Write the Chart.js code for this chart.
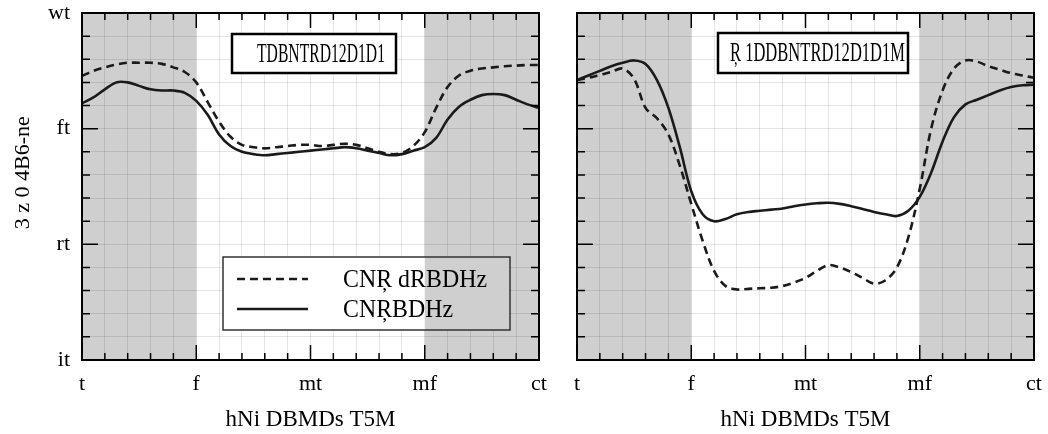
<!DOCTYPE html>
<html>
<head>
<meta charset="utf-8">
<script src="https://cdn.jsdelivr.net/npm/chart.js@4.4.1/dist/chart.umd.min.js"></script>
<style>
  html, body { margin: 0; padding: 0; background: #fff; }
  #wrap { position: relative; width: 1048px; height: 434px; overflow: hidden; }
  #c1 { position: absolute; left: 0; top: 0; }
  #c2 { position: absolute; left: 545px; top: 0; }
</style>
</head>
<body>
<div id="wrap">
  <canvas id="c1" width="560" height="434" style="width:560px;height:434px"></canvas>
  <canvas id="c2" width="503" height="434" style="width:503px;height:434px"></canvas>
</div>
<script>
// ---- data ----
const xValues = [0, 0.5, 1, 1.5, 2, 2.5, 3, 3.5, 4, 4.5, 5, 5.5, 6, 6.5, 7, 7.5, 8, 8.5, 9, 9.5, 10,
                 10.5, 11, 11.5, 12, 12.5, 13, 13.5, 14, 14.5, 15, 15.5, 16, 16.5, 17, 17.5, 18, 18.5, 19, 19.5, 20];

const leftDashed = [54.55, 55.0, 55.3, 55.55, 55.7, 55.7, 55.7, 55.6, 55.3, 54.9, 54.0, 52.3, 50.6, 49.3, 48.6, 48.4, 48.3, 48.4, 48.5, 48.6, 48.6,
                    48.5, 48.6, 48.7, 48.6, 48.3, 48.0, 47.8, 47.9, 48.5, 49.7, 51.8, 53.6, 54.6, 55.0, 55.2, 55.3, 55.4, 55.45, 55.5, 55.5];
const leftSolid  = [52.2, 52.7, 53.4, 54.0, 54.0, 53.7, 53.4, 53.3, 53.3, 53.1, 52.4, 51.2, 49.5, 48.5, 48.0, 47.8, 47.7, 47.8, 47.9, 48.0, 48.1,
                    48.2, 48.3, 48.4, 48.3, 48.1, 47.9, 47.7, 47.8, 48.1, 48.4, 49.2, 50.8, 51.9, 52.5, 52.9, 53.0, 52.9, 52.5, 52.1, 51.8];

const rightDashed = [54.2, 54.4, 54.65, 54.9, 55.2, 54.3, 51.8, 50.9, 49.5, 46.8, 43.5, 40.3, 37.7, 36.4, 36.1, 36.15, 36.2, 36.25, 36.4, 36.7, 37.1,
                     37.7, 38.2, 38.0, 37.6, 37.1, 36.6, 36.9, 38.0, 40.6, 44.8, 50.0, 53.3, 55.2, 55.9, 55.8, 55.4, 55.1, 54.8, 54.6, 54.4];
const rightSolid  = [54.2, 54.6, 55.0, 55.4, 55.7, 55.9, 55.6, 54.2, 51.8, 48.4, 44.6, 42.6, 42.0, 42.2, 42.6, 42.8, 42.9, 43.0, 43.1, 43.3, 43.45,
                     43.55, 43.6, 43.5, 43.3, 43.05, 42.8, 42.6, 42.45, 42.9, 44.1, 46.2, 48.9, 51.0, 52.1, 52.5, 52.9, 53.3, 53.6, 53.75, 53.8];

const seriesNames = ['CNŖ dRBDHz', 'CNŖBDHz'];
const panelTitles = ['TDBNTRD12D1D1', 'Ŗ 1DDBNTRD12D1D1M'];

const xTickValues = [0, 5, 10, 15, 20];
const xTickLabels = ['t', 'f', 'mt', 'mf', 'ct'];
const yTickValues = [30, 40, 50, 60];
const yTickLabels = ['it', 'rt', 'ft', 'wt'];

const shadedSpans = [[0, 5], [15, 20]];

const xAxisTitle = 'hNi DBMDs T5M';
const yAxisTitle = '     3 z 0 4B6-ne';

// ---- styling ----
const SERIF = "'Liberation Serif', 'DejaVu Serif', serif";
const SHADE = '#d0cfcf';
const INK = '#1a1a1a';

function pts(ys) { return xValues.map((x, i) => ({ x: x, y: ys[i] })); }

function tickText(values, labels) {
  return function (v) {
    const i = values.indexOf(v);
    return i >= 0 ? labels[i] : '';
  };
}

// keep the plot area fixed: no extra room for overhanging tick labels
function noOverhang(s) {
  s.paddingLeft = 0; s.paddingRight = 0; s.paddingTop = 0; s.paddingBottom = 0;
}

// shading, inward ticks, frame, title box and legend
const panelDecor = {
  id: 'panelDecor',
  beforeDraw(chart) {
    const { ctx, chartArea: a, scales: { x } } = chart;
    ctx.save();
    ctx.fillStyle = SHADE;
    shadedSpans.forEach(([s, e]) => {
      const x0 = x.getPixelForValue(s), x1 = x.getPixelForValue(e);
      ctx.fillRect(x0, a.top, x1 - x0, a.bottom - a.top);
    });
    ctx.restore();
  },
  afterDraw(chart, args, o) {
    const { ctx, chartArea: a, scales: { x, y } } = chart;
    ctx.save();
    // inward ticks on all four sides
    ctx.strokeStyle = '#000';
    ctx.lineWidth = 1.5;
    ctx.beginPath();
    x.ticks.forEach(t => {
      if (t.value <= x.min || t.value >= x.max) return;
      const px = x.getPixelForValue(t.value);
      const len = t.value % 5 === 0 ? 15 : 7;
      ctx.moveTo(px, a.top); ctx.lineTo(px, a.top + len);
      ctx.moveTo(px, a.bottom); ctx.lineTo(px, a.bottom - len);
    });
    y.ticks.forEach(t => {
      if (t.value <= y.min || t.value >= y.max) return;
      const py = y.getPixelForValue(t.value);
      const len = t.value % 10 === 0 ? 16 : 8;
      ctx.moveTo(a.left, py); ctx.lineTo(a.left + len, py);
      ctx.moveTo(a.right, py); ctx.lineTo(a.right - len, py);
    });
    ctx.stroke();
    // frame
    ctx.lineWidth = 2;
    ctx.strokeRect(a.left, a.top, a.right - a.left, a.bottom - a.top);

    // boxed panel title
    const b = o.titleBox;
    ctx.fillStyle = '#fff';
    ctx.fillRect(b.x, b.y, b.w, b.h);
    ctx.lineWidth = 2.5;
    ctx.strokeStyle = '#000';
    ctx.strokeRect(b.x, b.y, b.w, b.h);
    ctx.fillStyle = '#000';
    ctx.font = '27px ' + SERIF;
    ctx.textBaseline = 'middle';
    ctx.textAlign = 'left';
    ctx.fillText(b.text, b.tx, b.y + b.h / 2 + 1, b.tw);

    // legend
    if (o.legend) {
      const L = o.legend;
      ctx.fillStyle = '#fff';
      ctx.fillRect(L.x, L.y, L.w, L.h);
      // shaded span shows through the legend box
      ctx.fillStyle = SHADE;
      shadedSpans.forEach(([s, e]) => {
        const x0 = Math.max(L.x, x.getPixelForValue(s));
        const x1 = Math.min(L.x + L.w, x.getPixelForValue(e));
        if (x1 > x0) ctx.fillRect(x0, L.y, x1 - x0, L.h);
      });
      ctx.lineWidth = 1.5;
      ctx.strokeStyle = '#333';
      ctx.strokeRect(L.x, L.y, L.w, L.h);
      chart.data.datasets.forEach((ds, i) => {
        const ly = L.rowY[i];
        ctx.strokeStyle = ds.borderColor;
        ctx.lineWidth = ds.borderWidth;
        ctx.setLineDash(ds.borderDash || []);
        ctx.beginPath();
        ctx.moveTo(L.lineX0, ly);
        ctx.lineTo(L.lineX1, ly);
        ctx.stroke();
        ctx.setLineDash([]);
        ctx.fillStyle = '#000';
        ctx.font = '25px ' + SERIF;
        ctx.textBaseline = 'middle';
        ctx.fillText(ds.label, L.textX, ly + 1, L.textW[i]);
      });
    }
    ctx.restore();
  }
};

function makeChart(id, dashed, solid, opts) {
  return new Chart(document.getElementById(id), {
    type: 'line',
    data: {
      datasets: [
        { label: seriesNames[0], data: pts(dashed), borderColor: INK, borderWidth: 2.6,
          borderDash: [8, 5], pointRadius: 0, tension: 0.35, fill: false },
        { label: seriesNames[1], data: pts(solid), borderColor: INK, borderWidth: 2.6,
          pointRadius: 0, tension: 0.35, fill: false }
      ]
    },
    options: {
      responsive: false,
      animation: false,
      devicePixelRatio: 1,
      layout: { padding: { top: 13, right: opts.padRight, bottom: 0, left: 0 } },
      plugins: {
        legend: { display: false },
        tooltip: { enabled: false },
        panelDecor: { titleBox: opts.titleBox, legend: opts.legend }
      },
      scales: {
        x: {
          type: 'linear', min: 0, max: 20,
          afterFit(s) { s.height = 74; noOverhang(s); },
          grid: { color: 'rgba(0,0,0,0.1)', lineWidth: 1, drawTicks: false },
          border: { display: false },
          ticks: { stepSize: 1, autoSkip: false, maxRotation: 0, padding: 11, color: '#000',
                   font: { family: SERIF, size: 22 }, callback: tickText(xTickValues, xTickLabels) },
          title: { display: true, text: xAxisTitle, color: '#000',
                   font: { family: SERIF, size: 23 }, padding: { top: 0, bottom: 0 } }
        },
        y: {
          type: 'linear', min: 30, max: 60,
          afterFit(s) { s.width = opts.yWidth; noOverhang(s); },
          grid: { color: 'rgba(0,0,0,0.1)', lineWidth: 1, drawTicks: false },
          border: { display: false },
          ticks: { display: opts.showY, stepSize: 2, autoSkip: false, padding: 12, color: '#000',
                   font: { family: SERIF, size: 22 }, callback: tickText(yTickValues, yTickLabels) },
          title: { display: opts.showY, text: yAxisTitle, color: '#000', align: 'center',
                   font: { family: SERIF, size: 22 }, padding: { top: 10, bottom: 0 } }
        }
      }
    },
    plugins: [panelDecor]
  });
}

makeChart('c1', leftDashed, leftSolid, {
  showY: true, yWidth: 82, padRight: 21,
  titleBox: { x: 232, y: 34, w: 164, h: 39, text: panelTitles[0], tx: 257, tw: 128 },
  legend: { x: 223, y: 257, w: 287, h: 73, rowY: [279, 309], lineX0: 237, lineX1: 308,
            textX: 343, textW: [144, 110] }
});

makeChart('c2', rightDashed, rightSolid, {
  showY: false, yWidth: 32, padRight: 14,
  titleBox: { x: 173, y: 33, w: 190, h: 40, text: panelTitles[1], tx: 185, tw: 175 },
  legend: null
});
</script>
</body>
</html>
